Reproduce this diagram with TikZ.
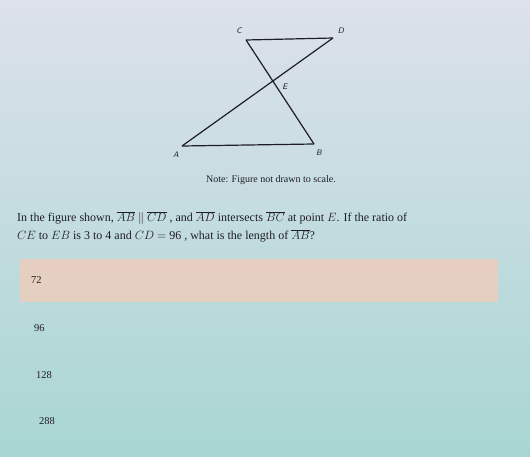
\documentclass[tikz,border=0pt]{standalone}
\usepackage{fontspec}
\setmainfont{Liberation Serif}
\usetikzlibrary{calc}

\definecolor{bgtop}{HTML}{DDE1EC}
\definecolor{bgmid}{HTML}{C9E0E4}
\definecolor{bgbot}{HTML}{A8D6D2}
\definecolor{band}{HTML}{F0CDBA}
\definecolor{ink}{HTML}{1E1E24}

\tikzset{
    vertex/.style={font=\sffamily\itshape\fontsize{8}{9}\selectfont, text=ink},
    seg/.style={ink, line width=1.2pt},
    qtext/.style={anchor=west, font=\fontsize{12}{14}\selectfont, text=ink, inner sep=0pt},
    choice/.style={anchor=west, font=\fontsize{10.5}{12}\selectfont, text=ink, inner sep=0pt},
}

\begin{document}
\begin{tikzpicture}[x=1pt, y=-1pt]
        \useasboundingbox (0,0) rectangle (530,457);
        \shade[top color=bgtop, middle color=bgmid, bottom color=bgbot] (0,0) rectangle (530,457);

        % highlighted answer
        \node[fill=band, opacity=0.8, minimum width=478pt, minimum height=43pt, inner sep=0pt] at (259, 280.5) (pick) {};

        \coordinate (A) at (182, 146);
        \coordinate (B) at (314, 144);
        \coordinate (C) at (246, 40);
        \coordinate (D) at (333, 38);
        \coordinate (E) at (intersection of A--D and C--B);

        \draw[seg]  (A) -- (B);
        \draw[seg]  (C) -- (D);
        \draw[seg]  (A) -- (D);
        \draw[seg]  (C) -- (B);

        \node[vertex] at (176, 155)  (la)  {A};
        \node[vertex] at (319, 153)  (lb)  {B};
        \node[vertex] at (239, 31)   (lc)  {C};
        \node[vertex] at (341, 31)   (ld)  {D};
        \node[vertex] at (285, 87)   (le)  {E};

        \node[font=\fontsize{10}{12}\selectfont, text=ink] at (271, 180) (note) {Note: Figure not drawn to scale.};

        % question
        \node[qtext] at (17, 218) (q1) {In the figure shown, $\overline{AB}$ $\|$ $\overline{CD}$ , and $\overline{AD}$ intersects $\overline{BC}$ at point $E$. If the ratio of};
        \node[qtext] at (17, 236) (q2) {$CE$ to $EB$ is 3 to 4 and $CD$ $=$ 96 , what is the length of $\overline{AB}$?};

        \node[choice] at (31, 280)  (c1) {72};
        \node[choice] at (34, 328)  (c2) {96};
        \node[choice] at (36, 375)  (c3) {128};
        \node[choice] at (39, 421)  (c4) {288};

    \end{tikzpicture}
\end{document}
